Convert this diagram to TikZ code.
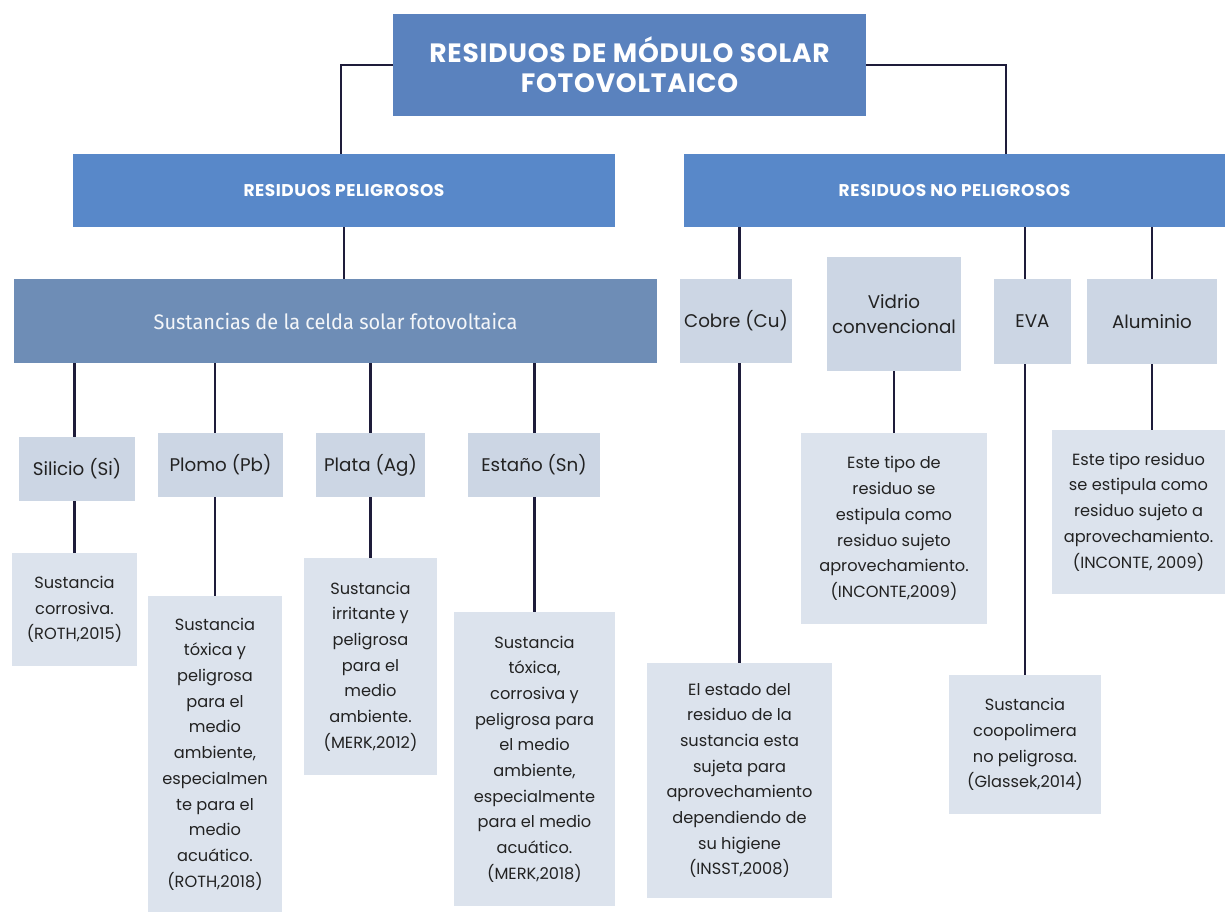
\documentclass[tikz,border=0pt]{standalone}
\usepackage{fontspec}
\setmainfont{Poppins}
\newfontfamily\headfont[LetterSpace=3]{Poppins}
\newfontfamily\sustfont{Fira Sans}
\definecolor{topblue}{HTML}{5A82BE}
\definecolor{midblue}{HTML}{5888C9}
\definecolor{sustblue}{HTML}{6E8DB6}
\definecolor{itembox}{HTML}{CCD6E4}
\definecolor{descbox}{HTML}{DCE3ED}
\definecolor{linecol}{HTML}{1E1C3A}
\definecolor{txt}{HTML}{222222}
\tikzset{
  bx/.style n args={2}{minimum width=#1pt, minimum height=#2pt, inner sep=0pt, align=center, anchor=center},
  headbox/.style={fill=topblue, text=white, font=\headfont\fontsize{26.5}{30}\selectfont\bfseries},
  catbox/.style={fill=midblue, text=white, font=\headfont\fontsize{17}{20}\selectfont\bfseries},
  sustbox/.style={fill=sustblue, text=white!92!sustblue, font=\sustfont\fontsize{21}{25}\selectfont},
  itemb/.style={fill=itembox, text=txt, font=\fontsize{18.3}{25.5}\selectfont},
  descb/.style={fill=descbox, text=txt, font=\fontsize{16.2}{25.7}\selectfont},
  conn/.style={draw=linecol, line width=2.4pt}
}
\begin{document}
\begin{tikzpicture}[x=1pt,y=-1pt]
\useasboundingbox (0,0) rectangle (1225,918);
% top
\node[bx={473}{102}, headbox] (top) at (629.5,65) {RESIDUOS DE MÓDULO SOLAR\\FOTOVOLTAICO};
\node[bx={542}{73}, catbox] (pel) at (344,190.5) {RESIDUOS PELIGROSOS};
\node[bx={541}{73}, catbox] (nopel) at (954.5,190.5) {RESIDUOS NO PELIGROSOS};
\node[bx={643}{84}, sustbox] (sus) at (335.5,321) {\scalebox{0.95}[1]{Sustancias de la celda solar fotovoltaica}};
% hazardous items
\node[bx={116}{64}, itemb] (si) at (77,469) {Silicio (Si)};
\node[bx={125}{64}, itemb] (pb) at (220.5,465) {Plomo (Pb)};
\node[bx={109}{64}, itemb] (ag) at (370.5,465) {Plata (Ag)};
\node[bx={132}{64}, itemb] (sn) at (534,465) {Estaño (Sn)};
% descriptions
\node[bx={125}{113}, descb] (sid) at (74.5,609.5) {Sustancia\\corrosiva.\\(ROTH,2015)};
\node[bx={134}{316}, descb] (pbd) at (215,754) {Sustancia\\tóxica y\\peligrosa\\para el\\medio\\ambiente,\\especialmen\\te para el\\medio\\acuático.\\(ROTH,2018)};
\node[bx={133}{217}, descb] (agd) at (370.5,666.5) {Sustancia\\irritante y\\peligrosa\\para el\\medio\\ambiente.\\(MERK,2012)};
\node[bx={161}{294}, descb] (snd) at (534.5,759) {Sustancia\\tóxica,\\corrosiva y\\peligrosa para\\el medio\\ambiente,\\especialmente\\para el medio\\acuático.\\(MERK,2018)};
% non hazardous
\node[bx={112}{84}, itemb] (cu) at (736,321) {Cobre (Cu)};
\node[bx={134}{114}, itemb] (vi) at (894,314) {Vidrio\\convencional};
\node[bx={77}{85}, itemb] (eva) at (1032.5,321.5) {EVA};
\node[bx={130}{85}, itemb] (al) at (1152,321.5) {Aluminio};
\node[bx={185}{235}, descb] (cud) at (739.5,780.5) {El estado del\\residuo de la\\sustancia esta\\sujeta para\\aprovechamiento\\dependiendo de\\su higiene\\(INSST,2008)};
\node[bx={186}{191}, descb] (vid) at (894,528.5) {Este tipo de\\residuo se\\estipula como\\residuo sujeto\\aprovechamiento.\\(INCONTE,2009)};
\node[bx={152}{139}, descb] (evad) at (1025,744.5) {Sustancia\\coopolimera\\no peligrosa.\\(Glassek,2014)};
\node[bx={173}{164}, descb] (ald) at (1138.5,512) {Este tipo residuo\\se estipula como\\residuo sujeto a\\aprovechamiento.\\(INCONTE, 2009)};
% connectors
\draw[conn] (top.west) -| ([xshift=-3pt]pel.north);
\draw[conn] (top.east) -| ([xshift=51.5pt]nopel.north);
\draw[conn] (pel.south) -- (pel.south |- sus.north);
\foreach \a/\b in {si/sid, pb/pbd, ag/agd, sn/snd}{
  \draw[conn] (\b.north |- sus.south) -- (\b.north |- \a.north);
  \draw[conn] (\b.north |- \a.south) -- (\b.north);
}
\draw[conn] (cud.north |- nopel.south) -- (cud.north |- cu.north);
\draw[conn] (cud.north |- cu.south) -- (cud.north);
\draw[conn] (vi.south) -- (vid.north);
\draw[conn] (evad.north |- nopel.south) -- (evad.north |- eva.north);
\draw[conn] (evad.north |- eva.south) -- (evad.north);
\draw[conn] (al.north |- nopel.south) -- (al.north);
\draw[conn] (al.south) -- (al.south |- ald.north);
\end{tikzpicture}
\end{document}
